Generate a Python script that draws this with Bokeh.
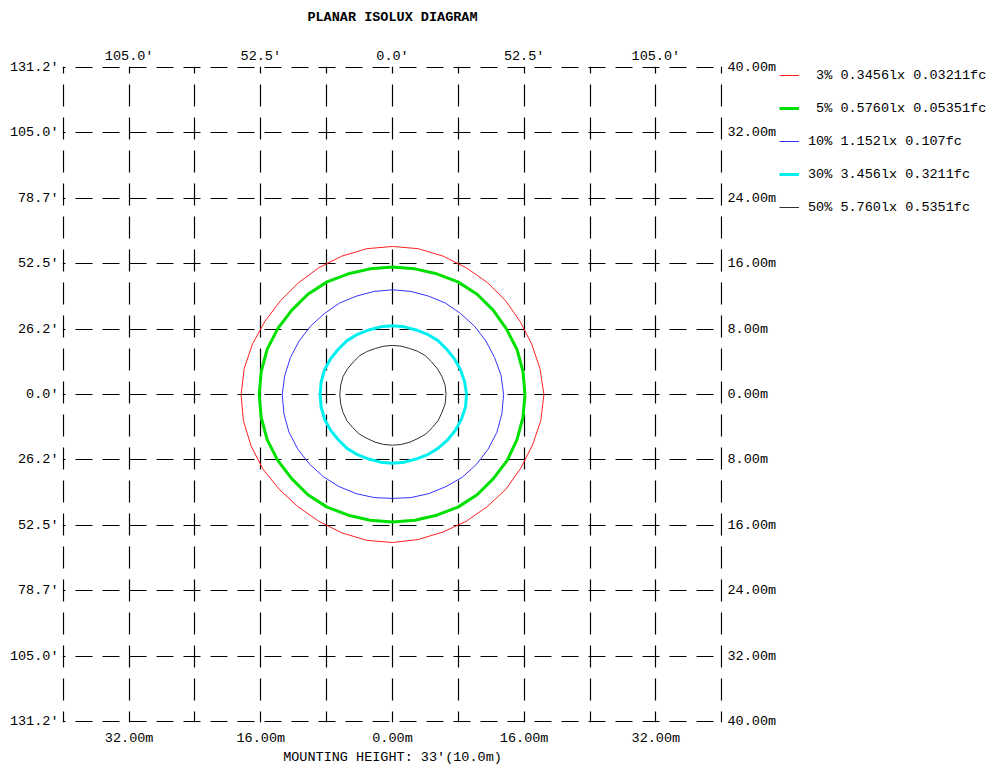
import numpy as np
from bokeh.plotting import figure
from bokeh.layouts import row
from bokeh.models import FixedTicker, LinearAxis, Legend, LegendItem, Range1d
from bokeh.embed import file_html
from bokeh.resources import INLINE

# ---------------- data ----------------
title_text = "PLANAR ISOLUX DIAGRAM"
footer_text = "MOUNTING HEIGHT: 33'(10.0m)"

grid_ticks = [-40, -32, -24, -16, -8, 0, 8, 16, 24, 32, 40]
x_label_ticks = [-32, -16, 0, 16, 32]
bottom_labels = ["32.00m", "16.00m", "0.00m", "16.00m", "32.00m"]
top_labels = ["105.0'", "52.5'", "0.0'", "52.5'", "105.0'"]
left_labels = ["131.2'", "105.0'", "78.7'", "52.5'", "26.2'", "0.0'",
               "26.2'", "52.5'", "78.7'", "105.0'", "131.2'"]
right_labels = ["40.00m", "32.00m", "24.00m", "16.00m", "8.00m", "0.00m",
                "8.00m", "16.00m", "24.00m", "32.00m", "40.00m"]

# contour radii (m) read at angles (deg, counter-clockwise from +x)
angles_deg = [0, 10, 20, 30, 40, 50, 60, 70, 80, 90, 100, 110,
              120, 130, 140, 150, 160, 170, 180, 190, 200, 210, 220, 230,
              240, 250, 260, 270, 280, 290, 300, 310, 320, 330, 340, 350]
r_3pct = [18.4, 18.2, 18.0, 17.9, 17.9, 17.9, 17.9, 18.0, 18.1, 18.1, 18.1, 18.0,
          17.9, 17.8, 17.8, 17.9, 18.1, 18.3, 18.4, 18.4, 18.3, 18.2, 18.0, 17.9,
          17.9, 18.0, 18.1, 18.1, 18.0, 17.9, 17.9, 17.9, 18.0, 18.0, 18.1, 18.3]
r_5pct = [16.1, 16.1, 16.1, 16.0, 16.0, 16.0, 15.9, 15.7, 15.6, 15.6, 15.6, 15.7,
          15.9, 16.0, 16.0, 16.1, 16.2, 16.2, 16.2, 16.2, 16.2, 16.1, 16.0, 16.0,
          15.9, 15.7, 15.6, 15.6, 15.6, 15.7, 15.9, 16.0, 16.0, 16.1, 16.1, 16.1]
r_10pct = [13.5, 13.4, 13.2, 13.1, 13.0, 12.9, 12.9, 12.8, 12.8, 12.8, 12.8, 12.8,
           12.9, 12.9, 13.0, 13.1, 13.2, 13.3, 13.4, 13.4, 13.4, 13.3, 13.2, 13.1,
           13.0, 12.9, 12.8, 12.7, 12.8, 12.9, 13.0, 13.2, 13.3, 13.4, 13.5, 13.5]
r_30pct = [9.0, 8.9, 8.8, 8.7, 8.6, 8.6, 8.5, 8.4, 8.4, 8.4, 8.4, 8.4,
           8.5, 8.6, 8.6, 8.7, 8.8, 8.8, 8.8, 8.8, 8.8, 8.7, 8.6, 8.6,
           8.5, 8.4, 8.4, 8.4, 8.4, 8.4, 8.5, 8.6, 8.7, 8.8, 8.9, 9.0]
r_50pct = [6.5, 6.5, 6.4, 6.3, 6.2, 6.2, 6.1, 6.0, 6.0, 6.0, 6.0, 6.0,
           6.1, 6.2, 6.2, 6.3, 6.4, 6.4, 6.4, 6.4, 6.4, 6.4, 6.3, 6.3,
           6.2, 6.2, 6.2, 6.2, 6.2, 6.2, 6.2, 6.3, 6.3, 6.4, 6.4, 6.5]

legend_labels = ["\u00a03% 0.3456lx 0.03211fc",
                 "\u00a05% 0.5760lx 0.05351fc",
                 "10% 1.152lx 0.107fc",
                 "30% 3.456lx 0.3211fc",
                 "50% 5.760lx 0.5351fc"]

# ---------------- styles ----------------
series_radii = [r_3pct, r_5pct, r_10pct, r_30pct, r_50pct]
series_colors = ["#ff2020", "#00e000", "#3535ff", "#00f0f0", "#303030"]
series_widths = [1, 3, 1, 3, 1]
FONT = "Liberation Mono"
FS = "13.5px"

p = figure(frame_width=660, frame_height=656, title=None,
           output_backend="svg", toolbar_location=None,
           x_range=Range1d(-40.1, 40.1), y_range=Range1d(-40.1, 40.1),
           min_border_left=62, min_border_right=0,
           min_border_top=66, min_border_bottom=47,
           background_fill_color="white", border_fill_color="white")
p.outline_line_color = None

# grid
p.xgrid.ticker = FixedTicker(ticks=grid_ticks)
p.ygrid.ticker = FixedTicker(ticks=grid_ticks)
p.xgrid.grid_line_color = "black"
p.ygrid.grid_line_color = "black"
p.xgrid.grid_line_width = 1.2
p.ygrid.grid_line_width = 1.2
p.xgrid.grid_line_dash = "22 11"
p.xgrid.grid_line_dash_offset = 11
p.ygrid.grid_line_dash = "17 10"
p.ygrid.grid_line_dash_offset = 14


def style_axis(ax, standoff):
    ax.axis_line_color = None
    ax.major_tick_line_color = None
    ax.minor_tick_line_color = None
    ax.major_tick_out = 0
    ax.major_tick_in = 0
    ax.minor_tick_out = 0
    ax.major_label_text_font = FONT
    ax.major_label_text_font_size = FS
    ax.major_label_text_color = "black"
    ax.major_label_standoff = standoff


# bottom axis
xb = p.xaxis[0]
xb.ticker = FixedTicker(ticks=x_label_ticks)
xb.major_label_overrides = {t: s for t, s in zip(x_label_ticks, bottom_labels)}
style_axis(xb, 8)
xb.axis_label = footer_text
xb.axis_label_text_font = FONT
xb.axis_label_text_font_size = FS
xb.axis_label_text_font_style = "normal"
xb.axis_label_text_color = "black"
xb.axis_label_standoff = 1

# left axis
yl = p.yaxis[0]
yl.ticker = FixedTicker(ticks=grid_ticks)
yl.major_label_overrides = {t: s for t, s in zip(grid_ticks, left_labels[::-1])}
style_axis(yl, 4)

# top axis (title carried as its axis label)
xt = LinearAxis(ticker=FixedTicker(ticks=x_label_ticks))
xt.major_label_overrides = {t: s for t, s in zip(x_label_ticks, top_labels)}
style_axis(xt, 3)
xt.axis_label = title_text
xt.axis_label_text_font = FONT
xt.axis_label_text_font_size = FS
xt.axis_label_text_font_style = "bold"
xt.axis_label_text_color = "black"
xt.axis_label_standoff = 21
p.add_layout(xt, "above")

# right axis
yr = LinearAxis(ticker=FixedTicker(ticks=grid_ticks))
yr.major_label_overrides = {t: s for t, s in zip(grid_ticks, right_labels[::-1])}
style_axis(yr, 5)
p.add_layout(yr, "right")

# contours
theta = np.deg2rad(np.array(angles_deg + [angles_deg[0]], dtype=float))
for radii, col, w in zip(series_radii, series_colors, series_widths):
    r = np.array(radii + [radii[0]], dtype=float)
    p.line(r * np.cos(theta), r * np.sin(theta), line_color=col, line_width=w)

# legend panel (separate figure to the right, proxy glyphs with the same styles)
pl = figure(width=218, height=769, title=None, output_backend="svg",
            toolbar_location=None, x_range=Range1d(0, 1), y_range=Range1d(0, 1),
            x_axis_location=None, y_axis_location=None,
            min_border_left=0, min_border_right=0, min_border_top=0,
            min_border_bottom=0, background_fill_color="white",
            border_fill_color="white")
pl.outline_line_color = None
pl.grid.visible = False
items = []
for col, w, lab in zip(series_colors, series_widths, legend_labels):
    rend = pl.line(x=np.full(2, np.nan), y=np.full(2, np.nan),
                   line_color=col, line_width=w)
    items.append(LegendItem(label=lab, renderers=[rend]))

legend = Legend(items=items, location=(0, 505),
                label_text_font=FONT, label_text_font_size=FS,
                label_text_color="black",
                label_standoff=9, glyph_width=20, glyph_height=20,
                label_height=20, spacing=13, padding=0, margin=0,
                border_line_color=None, background_fill_alpha=0)
pl.add_layout(legend, "center")

layout = row(p, pl, spacing=0)
open("out.html", "w").write(file_html(layout, INLINE))
